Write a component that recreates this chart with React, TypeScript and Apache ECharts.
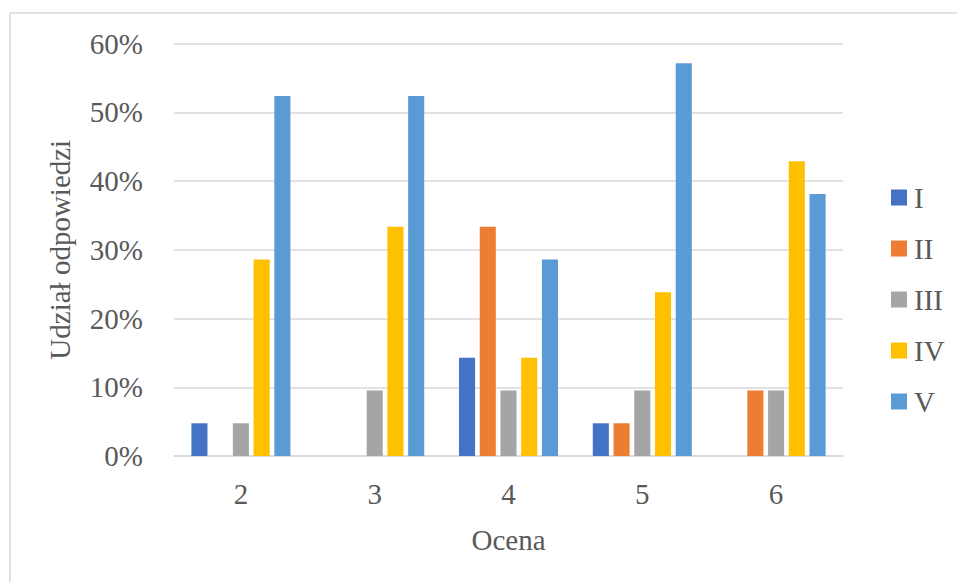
import React, { useEffect, useRef } from "react";
import * as echarts from "echarts";

// Grades on the x axis
const categories = ["2", "3", "4", "5", "6"];

// Share of answers (%) per group I–V
const seriesNames = ["I", "II", "III", "IV", "V"];
const valuesI = [4.76, 0, 14.29, 4.76, 0];
const valuesII = [0, 0, 33.33, 4.76, 9.52];
const valuesIII = [4.76, 9.52, 9.52, 9.52, 9.52];
const valuesIV = [28.57, 33.33, 14.29, 23.81, 42.86];
const valuesV = [52.38, 52.38, 28.57, 57.14, 38.1];

const colors = ["#4472C4", "#ED7D31", "#A5A5A5", "#FFC000", "#5B9BD5"];

const FONT = "'Liberation Serif', 'Times New Roman', serif";
const TEXT = "#595959";
const GRID = "#D9D9D9";

export default function App() {
  const ref = useRef<HTMLDivElement>(null);

  useEffect(() => {
    if (!ref.current) return;
    const chart = echarts.init(ref.current, null, { renderer: "svg" });
    const all = [valuesI, valuesII, valuesIII, valuesIV, valuesV];

    chart.setOption({
      animation: false,
      backgroundColor: "#ffffff",
      textStyle: { fontFamily: FONT },
      grid: { left: 174, right: 114, top: 43.5, bottom: 126, containLabel: false },
      graphic: [
        {
          type: "line",
          shape: { x1: 10, y1: 13, x2: 10, y2: 582 },
          style: { stroke: GRID, lineWidth: 1.5 },
        },
        {
          type: "line",
          shape: { x1: 10, y1: 13, x2: 957, y2: 13 },
          style: { stroke: GRID, lineWidth: 1.5 },
        },
      ],
      legend: {
        orient: "vertical",
        left: 886,
        top: 178,
        itemWidth: 16,
        itemHeight: 16,
        itemGap: 22,
        icon: "rect",
        data: seriesNames,
        textStyle: {
          fontFamily: FONT,
          fontSize: 29,
          color: TEXT,
          lineHeight: 29,
          padding: [0, 0, 0, 2],
        },
      },
      xAxis: {
        type: "category",
        data: categories,
        name: "Ocena",
        nameLocation: "middle",
        nameGap: 69,
        nameTextStyle: { fontFamily: FONT, fontSize: 29, color: TEXT },
        axisLine: { show: true, lineStyle: { color: GRID, width: 1.5 } },
        axisTick: { show: false },
        axisLabel: { fontFamily: FONT, fontSize: 29, color: TEXT, margin: 23 },
      },
      yAxis: {
        type: "value",
        min: 0,
        max: 60,
        interval: 10,
        name: "Udział odpowiedzi",
        nameLocation: "middle",
        nameGap: 100,
        nameTextStyle: { fontFamily: FONT, fontSize: 29, color: TEXT },
        axisLine: { show: false },
        axisTick: { show: false },
        axisLabel: {
          fontFamily: FONT,
          fontSize: 29,
          color: TEXT,
          margin: 31,
          formatter: "{value}%",
        },
        splitLine: { lineStyle: { color: GRID, width: 1.5 } },
      },
      series: seriesNames.map((name, i) => ({
        name,
        type: "bar",
        data: all[i],
        barGap: "29%",
        barCategoryGap: "26%",
        itemStyle: { color: colors[i] },
      })),
    });

    return () => chart.dispose();
  }, []);

  return (
    <div
      ref={ref}
      style={{ position: "fixed", left: 0, top: 0, width: 957, height: 582 }}
    />
  );
}
